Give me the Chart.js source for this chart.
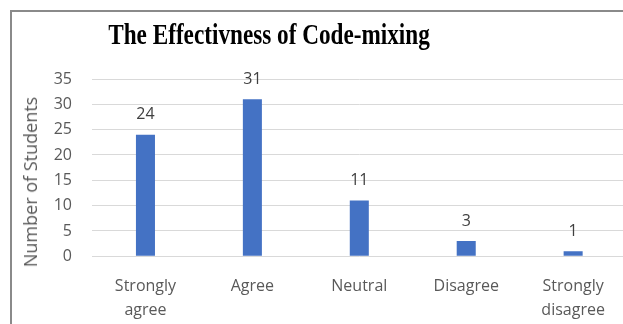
<!DOCTYPE html>
<html>
<head>
<meta charset="utf-8">
<script src="https://cdn.jsdelivr.net/npm/chart.js@4"></script>
<style>
  html, body { margin: 0; padding: 0; background: #fff; overflow: hidden; width: 623px; height: 324px; }
  #page { position: relative; width: 623px; height: 324px; overflow: hidden; }
  #frame { position: absolute; left: 10px; top: 10px; width: 900px; height: 500px; border-left: 2px solid #8a8a8a; border-top: 2px solid #8a8a8a; }
  #wrap { position: absolute; left: 0; top: 0; width: 640px; height: 324px; }
  #title { position: absolute; left: 268.5px; top: 17px; white-space: nowrap; font-family: "Liberation Serif", "Times New Roman", serif; font-weight: bold; font-size: 29px; line-height: 34px; color: #000; transform: translateX(-50%) scaleX(0.8); }
  #ytitle { position: absolute; left: 30px; top: 182px; white-space: nowrap; font-family: "Open Sans", sans-serif; font-size: 18px; color: #595959; transform: translate(-50%, -50%) rotate(-90deg); }
</style>
</head>
<body>
<div id="page">
  <div id="frame"></div>
  <div id="wrap"><canvas id="chart" width="640" height="324"></canvas></div>
  <div id="title">The Effectivness of Code-mixing</div>
  <div id="ytitle">Number of Students</div>
</div>
<script>
// chart data
const categories = [['Strongly', 'agree'], 'Agree', 'Neutral', 'Disagree', ['Strongly', 'disagree']];
const studentCounts = [24, 31, 11, 3, 1];
const yTicks = [0, 5, 10, 15, 20, 25, 30, 35];

const textGray = '#595959';

// draws the value above each bar
const valueLabels = {
    id: 'valueLabels',
    afterDatasetsDraw(chart) {
        const ctx = chart.ctx;
        ctx.save();
        ctx.font = '16px "Open Sans", sans-serif';
        ctx.fillStyle = '#404040';
        ctx.textAlign = 'center';
        ctx.textBaseline = 'middle';
        chart.getDatasetMeta(0).data.forEach((bar, i) => {
            ctx.fillText(String(studentCounts[i]), bar.x, bar.y - 20);
        });
        ctx.restore();
    }
};

new Chart(document.getElementById('chart'), {
    type: 'bar',
    data: {
        labels: categories,
        datasets: [{
            data: studentCounts,
            backgroundColor: '#4472C4',
            categoryPercentage: 1,
            barPercentage: 0.178
        }]
    },
    options: {
        responsive: false,
        animation: false,
        devicePixelRatio: 1,
        layout: { padding: { left: 12, top: 79, right: 13.4, bottom: 0 } },
        plugins: {
            legend: { display: false },
            tooltip: { enabled: false }
        },
        scales: {
            y: {
                min: yTicks[0],
                max: yTicks[yTicks.length - 1],
                afterBuildTicks: s => { s.ticks = yTicks.map(v => ({ value: v })); },
                afterFit: s => { s.width = 80; },
                ticks: {
                    color: textGray,
                    font: { family: 'Open Sans', size: 16 },
                    padding: 20
                },
                grid: { color: '#d9d9d9', lineWidth: 1, drawTicks: false },
                border: { display: false }
            },
            x: {
                afterFit: s => { s.height = 67.7; },
                ticks: {
                    color: textGray,
                    font: { family: 'Open Sans', size: 16, lineHeight: 1.5 },
                    maxRotation: 0,
                    autoSkip: false,
                    padding: 10
                },
                grid: { display: false },
                border: { display: false }
            }
        }
    },
    plugins: [valueLabels]
});
</script>
</body>
</html>
